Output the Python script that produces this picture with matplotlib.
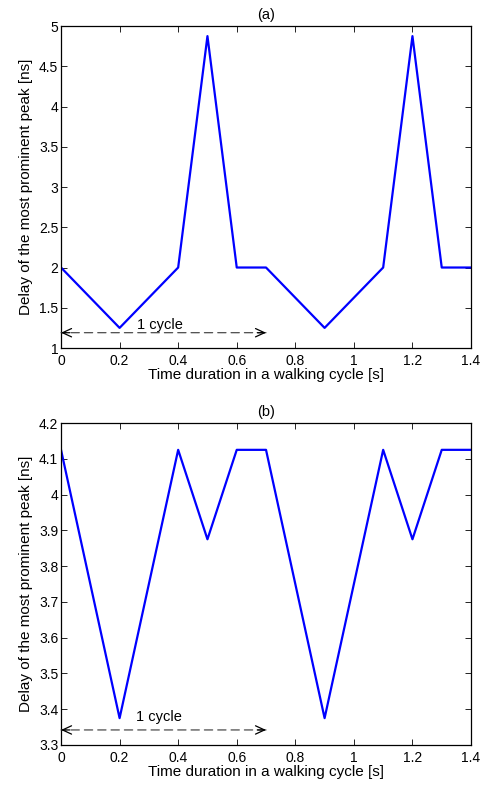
import matplotlib
matplotlib.use("Agg")
import matplotlib.pyplot as plt

plt.rcParams['font.family'] = ['Liberation Sans', 'DejaVu Sans']

time_s = [0, 0.2, 0.4, 0.5, 0.6, 0.7, 0.9, 1.1, 1.2, 1.3, 1.4]
delay_a = [2, 1.25, 2, 4.875, 2, 2, 1.25, 2, 4.875, 2, 2]
delay_b = [4.125, 3.375, 4.125, 3.875, 4.125, 4.125, 3.375, 4.125, 3.875, 4.125, 4.125]

cycle_start, cycle_end = 0.0, 0.7
arrow_y_a, text_y_a = 1.19, 1.29
arrow_y_b, text_y_b = 3.342, 3.378

fig = plt.figure(figsize=(4.87, 7.87), dpi=100)
ax1 = fig.add_axes([0.1253, 0.5578, 0.8419, 0.4091])
ax2 = fig.add_axes([0.1253, 0.0534, 0.8419, 0.4091])

TICK = 10
LAB = 11

def style(ax):
    ax.tick_params(direction='in', top=True, right=True, length=4, width=0.6, labelsize=TICK)
    ax.tick_params(axis='x', pad=4)
    ax.tick_params(axis='y', pad=2)
    for s in ax.spines.values():
        s.set_linewidth(0.9)
    ax.set_xlim(0, 1.4)
    ax.set_xticks([0, 0.2, 0.4, 0.6, 0.8, 1.0, 1.2, 1.4])
    ax.set_xticklabels(['0', '0.2', '0.4', '0.6', '0.8', '1', '1.2', '1.4'])
    ax.set_xlabel('Time duration in a walking cycle [s]', fontsize=LAB, labelpad=0)
    ax.set_ylabel('Delay of the most prominent peak [ns]', fontsize=LAB, labelpad=4)

def cycle_arrow(ax, y, ty, tx):
    ax.annotate('', xy=(cycle_start, y), xytext=(cycle_end, y),
                arrowprops=dict(arrowstyle='-', linestyle=(0, (7.5, 4.5)), color='#333333',
                                lw=0.8, shrinkA=0, shrinkB=0))
    for end, other in ((cycle_start, cycle_start + 0.03), (cycle_end, cycle_end - 0.03)):
        ax.annotate('', xy=(end, y), xytext=(other, y),
                    arrowprops=dict(arrowstyle='->, head_length=0.65, head_width=0.3',
                                    color='black', lw=0.9, shrinkA=0, shrinkB=0,
                                    mutation_scale=10))
    ax.text(tx, ty, '1 cycle', ha='left', va='center', fontsize=10.5)

ax1.plot(time_s, delay_a, color='#0000ff', lw=1.6)
style(ax1)
ax1.set_ylim(1, 5)
ax1.set_yticks([1, 1.5, 2, 2.5, 3, 3.5, 4, 4.5, 5])
ax1.set_yticklabels(['1', '1.5', '2', '2.5', '3', '3.5', '4', '4.5', '5'])
ax1.set_title('(a)', fontsize=10.5, pad=5)
cycle_arrow(ax1, arrow_y_a, text_y_a, 0.26)

ax2.plot(time_s, delay_b, color='#0000ff', lw=1.6)
style(ax2)
ax2.set_ylim(3.3, 4.2)
ax2.set_yticks([3.3, 3.4, 3.5, 3.6, 3.7, 3.8, 3.9, 4.0, 4.1, 4.2])
ax2.set_yticklabels(['3.3', '3.4', '3.5', '3.6', '3.7', '3.8', '3.9', '4', '4.1', '4.2'])
ax2.set_title('(b)', fontsize=10.5, pad=5)
cycle_arrow(ax2, arrow_y_b, text_y_b, 0.255)

fig.savefig('out.png', dpi=100)
